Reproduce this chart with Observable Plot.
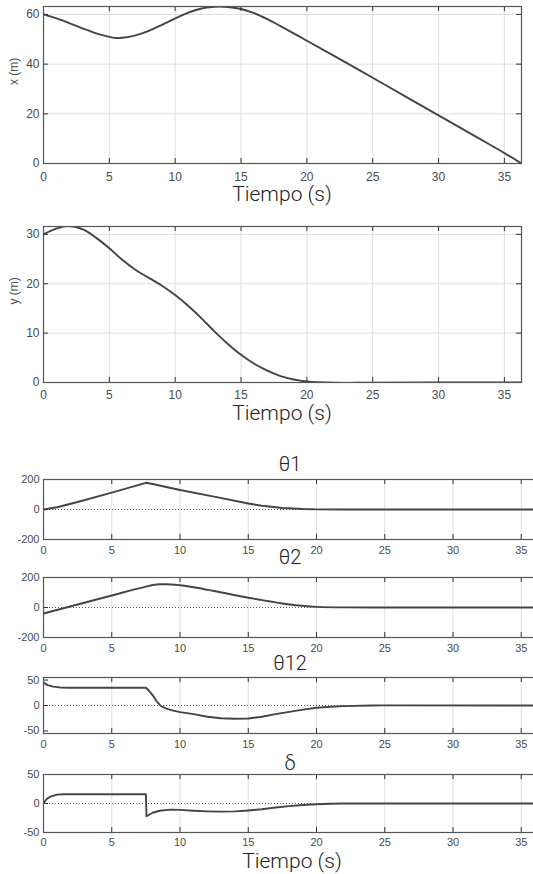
<!DOCTYPE html>
<html><head><meta charset="utf-8">
<script src="https://cdn.jsdelivr.net/npm/d3@7"></script>
<script src="https://cdn.jsdelivr.net/npm/@observablehq/plot@0.6"></script>
<style>
html,body{margin:0;padding:0;background:#fff;overflow:hidden}
#c{position:relative;width:533px;height:874px;overflow:hidden;background:#fff}
.p{position:absolute;left:0;max-width:none!important}
.t{position:absolute;font-family:Roboto,"Open Sans",sans-serif;font-weight:300;color:#222;white-space:nowrap;transform:translateX(-50%)}
</style></head><body><div id="c"></div><script>
// ---- data ----
const timeTicks = [0, 5, 10, 15, 20, 25, 30, 35];
const timeMax = 36.3;

const tX   = [0, 1, 2, 3, 4, 5, 5.5, 6, 7, 8, 9, 10, 11, 12, 13, 13.4, 14, 15, 16, 17, 18, 19, 20, 22, 25, 28, 30, 33, 35, 36.3];
const xPos = [60, 58.4, 56.4, 54.3, 52.4, 51, 50.5, 50.6, 51.6, 53.4, 55.8, 58.4, 60.7, 62.4, 63.1, 63.2, 63, 62.2, 60.5, 58.1, 55.3, 52.4, 49.4, 43.5, 34.5, 25.4, 19.4, 10.3, 4.2, 0];
const xTicks = [0, 20, 40, 60];

const tY   = [0, 1, 1.8, 3, 4, 5, 6, 7, 8, 9, 10, 11, 12, 13, 14, 15, 16, 17, 18, 19, 20, 22, 25, 30, 36.3];
const yPos = [30, 31.2, 31.7, 31, 29.3, 27.2, 24.8, 22.8, 21.2, 19.6, 17.7, 15.5, 13, 10.3, 7.8, 5.6, 3.8, 2.4, 1.3, 0.6, 0.2, -0.05, -0.05, 0, 0];
const yTicks = [0, 10, 20, 30];

const tTh1 = [0, 1, 2.5, 5, 7.5, 8, 10, 12.5, 15, 16, 17.5, 19, 20, 22, 36.3];
const th1  = [0, 15, 50, 113, 178, 170, 130, 86, 40, 25, 10, 3, 1, 0, 0];

const tTh2 = [0, 2.5, 5, 7.5, 8, 8.5, 9, 10, 11, 12.5, 15, 16.5, 17.5, 18.5, 20, 22, 24, 36.3];
const th2  = [-40, 20, 80, 139, 150, 155, 155, 148, 135, 110, 65, 42, 27, 15, 4, 0.5, 0, 0];
const thTicks = [-200, 0, 200];

const tTh12 = [0, 0.3, 0.7, 1.2, 2, 7.5, 7.7, 8, 8.3, 8.6, 9, 9.5, 10, 11, 12, 13, 14, 15, 16, 17, 18, 19, 20, 21, 22, 24, 25, 36.3];
const th12  = [45, 40, 37, 35.5, 35, 35, 30, 20, 8, -1, -6, -10, -13, -17, -22, -25, -26, -25.5, -22, -17, -12.5, -8, -4.5, -2.5, -1.2, 0, 0.2, 0];
const th12Ticks = [-50, 0, 50];

const tDelta = [0, 0.2, 0.5, 1, 1.5, 7.5, 7.55, 8, 8.5, 9.3, 10, 11, 12, 13, 14, 15, 16, 17, 18, 19, 20, 21, 22, 36.3];
const delta  = [0, 7, 12, 15.3, 16, 16, -22, -16, -12.5, -10.5, -11, -12.5, -13.5, -14, -13.5, -12, -10, -7, -4.5, -2.5, -1.2, -0.5, 0, 0];
const deltaTicks = [-50, 0, 50];

const xAxisLabel = "Tiempo (s)";
const yLabels = ["x (m)", "y (m)"];
const titles = ["θ1", "θ2", "θ12", "δ"];

// ---- drawing ----
const c = document.getElementById("c");
const zip = (t, v) => t.map((d, i) => ({t: d, v: v[i]}));

function panel({top, height, mt, mb, ml = 43, mr, width = 533, data, yDomain, ticks, hgrid, zero, curve = "linear", fs, tickPad, ylabel}) {
  const fw = width - ml - mr, fh = height - mt - mb;
  const grid = "#dedede", tick = "#333", txt = "#4a4a4a";
  const marks = [
    Plot.gridX(timeTicks, {stroke: grid, strokeOpacity: 1}),
    hgrid ? Plot.gridY(ticks, {stroke: grid, strokeOpacity: 1}) : null,
    zero ? Plot.ruleY([0], {stroke: "#444", strokeWidth: 0.9, strokeDasharray: "1,2"}) : null,
    Plot.line(data, {x: "t", y: "v", stroke: "#444", strokeWidth: 1.9, curve, clip: true}),
    Plot.ruleX(timeTicks, {stroke: tick, insetBottom: fh - 5}),
    Plot.ruleX(timeTicks, {stroke: tick, insetTop: fh - 5}),
    Plot.ruleY(ticks, {stroke: tick, insetRight: fw - 5}),
    Plot.ruleY(ticks, {stroke: tick, insetLeft: fw - 5}),
    Plot.frame({stroke: "#555", strokeWidth: 1.2}),
    Plot.axisX({ticks: timeTicks, tickSize: 0, tickPadding: tickPad, fontSize: fs, fill: txt, tickFormat: d => String(d), label: null}),
    Plot.axisY({ticks, tickSize: 0, tickPadding: 4, fontSize: fs, fill: txt, tickFormat: d => String(d), label: null}),
    ylabel ? Plot.text([ylabel], {text: d => d, frameAnchor: "left", rotate: -90, dx: -29, fontSize: 12, fill: txt}) : null
  ].filter(Boolean);
  const svg = Plot.plot({
    width, height, marginTop: mt, marginBottom: mb, marginLeft: ml, marginRight: mr,
    style: {fontFamily: "'Liberation Sans', Arial, sans-serif", background: "transparent", overflow: "visible"},
    x: {domain: [0, timeMax]},
    y: {domain: yDomain},
    marks
  });
  svg.classList.add("p");
  svg.style.maxWidth = "none";
  svg.style.width = width + "px";
  svg.style.height = height + "px";
  svg.style.top = top + "px";
  c.appendChild(svg);
}

function label(text, cx, baseline, size) {
  const d = document.createElement("div");
  d.className = "t";
  d.textContent = text;
  d.style.fontSize = size + "px";
  d.style.lineHeight = (0.7 * size) + "px";
  d.style.left = cx + "px";
  d.style.top = (baseline - 0.6915 * size) + "px";
  c.appendChild(d);
}

// upper plots
panel({top: 0, height: 185, mt: 6, mb: 22, mr: 12, data: zip(tX, xPos), yDomain: [0, 63.2], ticks: xTicks, hgrid: true, curve: "catmull-rom", fs: 12, tickPad: 9, ylabel: yLabels[0]});
panel({top: 220, height: 184, mt: 6, mb: 22, mr: 12, data: zip(tY, yPos), yDomain: [0, 31.6], ticks: yTicks, hgrid: true, curve: "catmull-rom", fs: 12, tickPad: 8, ylabel: yLabels[1]});
label(xAxisLabel, 282, 202, 21);
label(xAxisLabel, 282, 421, 21);

// lower plots
const lw = 545, lmr = 545 - 43 - 36.3 * 13.65;
panel({top: 473, height: 86, mt: 6, mb: 20, width: lw, mr: lmr, data: zip(tTh1, th1), yDomain: [-200, 200], ticks: thTicks, zero: true, fs: 11, tickPad: 6.5});
panel({top: 571, height: 86, mt: 6, mb: 20, width: lw, mr: lmr, data: zip(tTh2, th2), yDomain: [-200, 200], ticks: thTicks, zero: true, curve: "monotone-x", fs: 11, tickPad: 6.5});
panel({top: 671, height: 82, mt: 6, mb: 20, width: lw, mr: lmr, data: zip(tTh12, th12), yDomain: [-55, 55], ticks: th12Ticks, zero: true, fs: 11, tickPad: 6.5});
panel({top: 768, height: 84, mt: 6, mb: 20, width: lw, mr: lmr, data: zip(tDelta, delta), yDomain: [-50, 50], ticks: deltaTicks, zero: true, fs: 11, tickPad: 6});
label(titles[0], 290, 470.5, 20);
label(titles[1], 290, 563.5, 20);
label(titles[2], 290, 669.5, 20);
label(titles[3], 290, 770, 20);
label(xAxisLabel, 292, 869, 21);
</script></body></html>
